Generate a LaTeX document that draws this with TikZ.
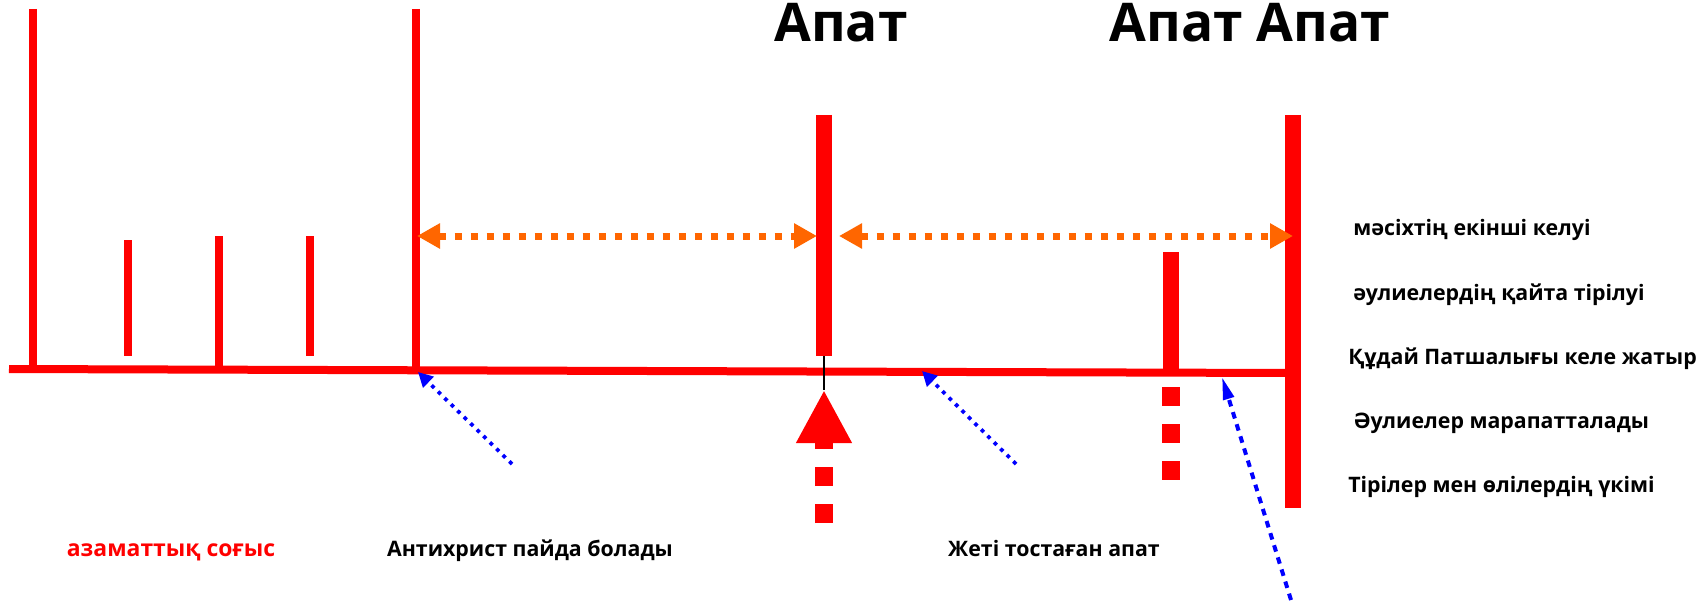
\documentclass[tikz,border=0pt]{standalone}
\usepackage{fontspec}
\setmainfont{Open Sans}
\usetikzlibrary{arrows.meta}
\definecolor{tred}{RGB}{255,0,0}
\definecolor{torange}{RGB}{255,102,0}
\definecolor{tblue}{RGB}{0,0,255}
\begin{document}
\begin{tikzpicture}[x=0.75pt,y=-0.75pt,
  redline/.style={draw=tred, line width=6pt, line cap=butt},
  thickred/.style={draw=tred, line width=12pt, line cap=butt},
  squares/.style={draw=tred, line width=13.5pt, line cap=butt, dash pattern=on 14.25pt off 13.5pt},
  orangearrow/.style={draw=torange, line width=5.25pt, line cap=butt, dash pattern=on 5.25pt off 6.75pt,
     {Triangle[length=17.25pt,width=18pt,fill=torange]}-{Triangle[length=17.25pt,width=18pt,fill=torange]}},
  bluedots/.style={draw=tblue, line width=2.8pt, line cap=butt, dash pattern=on 2.8pt off 4pt,
     -{Triangle[length=11pt,width=11pt,fill=tblue]}},
  bluedash/.style={draw=tblue, line width=3pt, line cap=butt, dash pattern=on 5pt off 4.5pt,
     -{Triangle[length=17pt,width=8pt,fill=tblue]}},
  title/.style={anchor=base, inner sep=0pt, font=\fontsize{40}{40}\selectfont\bfseries},
  label/.style={anchor=base west, inner sep=0pt, font=\fontsize{16}{18}\selectfont\bfseries},
  blabel/.style={anchor=base, inner sep=0pt, font=\fontsize{16}{18}\selectfont\bfseries},
]
\useasboundingbox (0,0) rectangle (1701,606);

% key points
\coordinate (bl) at (9,369);
\coordinate (br) at (1287,373);
\coordinate (t1top) at (33,9);     \coordinate (t1bot) at (33,369);
\coordinate (s1top) at (128,240);  \coordinate (s1bot) at (128,356);
\coordinate (s2top) at (219,236);  \coordinate (s2bot) at (219,369);
\coordinate (s3top) at (310,236);  \coordinate (s3bot) at (310,356);
\coordinate (t2top) at (416,9);    \coordinate (t2bot) at (416,370);
\coordinate (mtop) at (824,115);   \coordinate (mbot) at (824,356);
\coordinate (mtip) at (824,390);   \coordinate (mtail) at (824,523);
\coordinate (rtop) at (1293,115);  \coordinate (rbot) at (1293,508);
\coordinate (ktop) at (1171,252);  \coordinate (kbot) at (1171,372);
\coordinate (ksq1) at (1171,387);  \coordinate (ksq2) at (1171,481);
\coordinate (oa1) at (417,236);    \coordinate (oa2) at (817,236);
\coordinate (ob1) at (839,236);    \coordinate (ob2) at (1293,236);
\coordinate (b1tail) at (512,464); \coordinate (b1tip) at (418,372);
\coordinate (b2tail) at (1016,464);\coordinate (b2tip) at (922,371);
\coordinate (b3tail) at (1291,600);\coordinate (b3tip) at (1222,377);

% time line and ticks
\draw[redline] (t1top) -- (t1bot);
\draw[redline] (s1top) -- (s1bot);
\draw[redline] (s2top) -- (s2bot);
\draw[redline] (s3top) -- (s3bot);
\draw[redline] (t2top) -- (t2bot);
\draw[redline] (bl) -- (br);
\draw[thickred] (mtop) -- (mbot);
\draw[thickred] (rtop) -- (rbot);
\draw[thickred] (ktop) -- (kbot);
\draw[squares] (ksq1) -- (ksq2);

% middle marker
\draw[black, line width=1.5pt] (mbot) -- (mtip);
\draw[squares, -{Triangle[length=39.75pt,width=39pt,fill=tred]}] (mtail) -- (mtip);

% orange spans
\draw[orangearrow] (oa1) -- (oa2);
\draw[orangearrow] (ob1) -- (ob2);

% blue pointers
\draw[bluedots] (b1tail) -- (b1tip);
\draw[bluedots] (b2tail) -- (b2tip);
\draw[bluedash] (b3tail) -- (b3tip);

% titles
\node[title] (ap1) at (841,42) {Апат};
\node[title] (ap2) at (1250,42) {Апат Апат};

% right labels
\node[label] (l1) at (1353,235) {мәсіхтің екінші келуі};
\node[label] (l2) at (1353,300) {әулиелердің қайта тірілуі};
\node[label] (l3) at (1348,364) {Құдай Патшалығы келе жатыр};
\node[label] (l4) at (1353,428) {Әулиелер марапатталады};
\node[label] (l5) at (1348,492) {Тірілер мен өлілердің үкімі};

% bottom labels
\node[blabel, text=tred, font=\fontsize{17.2}{18}\selectfont\bfseries] (c1) at (171,556) {азаматтық соғыс};
\node[blabel] (c2) at (530,556) {Антихрист пайда болады};
\node[blabel] (c3) at (1054,556) {Жеті тостаған апат};
\end{tikzpicture}
\end{document}
